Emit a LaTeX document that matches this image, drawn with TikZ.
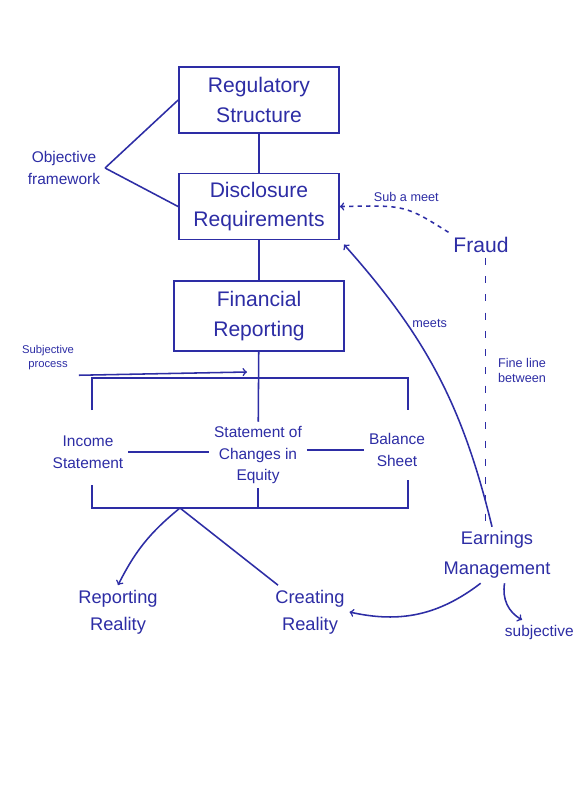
\documentclass[tikz,border=0pt]{standalone}
\usepackage{fontspec}
\setmainfont{Liberation Sans}
\usetikzlibrary{shapes,arrows,positioning}
\definecolor{ink}{RGB}{45,45,165}
\tikzstyle{block} = [rectangle, draw=ink, text=ink, line width=1.1pt, align=center, minimum width=4cm, minimum height=1.65cm, font=\fontsize{15}{21}\selectfont]
\tikzstyle{note} = [text=ink, align=center, font=\fontsize{13}{19}\selectfont]
\tikzstyle{scribble} = [text=ink, align=center, font=\fontsize{9}{11}\selectfont]
\tikzstyle{link} = [draw=ink, line width=1.1pt]
\tikzstyle{pointer} = [link, -to]

\begin{document}
\begin{tikzpicture}[x=0.025cm, y=-0.025cm, node distance=1cm]
    \fill[white] (0,0) rectangle (573,792);
    \useasboundingbox (0,0) rectangle (573,792);
    % Place nodes
    \node [block] (regulatory) at (259,100) {Regulatory\\Structure};
    \node [block, below=0.975cm of regulatory] (disclosure) {Disclosure\\Requirements};
    \node [block, below=1cm of disclosure, minimum width=4.25cm, minimum height=1.75cm] (financial) {Financial\\Reporting};
    \node [scribble, font=\fontsize{11}{15}\selectfont] (objective) at (64,168) {Objective\\framework};
    \node [scribble, font=\fontsize{8}{10}\selectfont] (subprocess) at (48,358) {Subjective\\process};
    \node [note, font=\fontsize{11}{15}\selectfont] (soce) at (258,455) {Statement of\\Changes in\\Equity};
    \node [note, font=\fontsize{11}{16}\selectfont] (income) at (88,452) {Income\\Statement};
    \node [note, font=\fontsize{11}{16}\selectfont] (balance) at (397,450) {Balance\\Sheet};
    \node [note] (reporting) at (118,612) {Reporting\\Reality};
    \node [note] (creating) at (310,612) {Creating\\Reality};
    \node [note, font=\fontsize{13}{21}\selectfont] (earnings) at (497,555) {Earnings\\Management};
    \node [note, font=\fontsize{15}{19}\selectfont] (fraud) at (481,245) {Fraud};
    \node [note, font=\fontsize{11}{14}\selectfont, anchor=west] (subjective) at (500,632) {subjective};
    \coordinate (stem) at (247,372);
    \coordinate (topleft) at (92,410);
    \coordinate (topright) at (408,410);
    \coordinate (botleft) at (92,485);
    \coordinate (botright) at (408,480);
    \coordinate (fork) at (180,508);

    % Draw edges
    \path [link] (regulatory) -- (disclosure);
    \path [link] (disclosure) -- (financial);
    \path [link] (objective.east) -- (regulatory.west);
    \path [link] (objective.east) -- (disclosure.west);
    \path [link] (financial) -- (soce);
    \path [pointer] (subprocess.south east) -- (stem);
    \path [link] (topleft) -- ++(0,-32) -| (topright);
    \path [link] (income.east) -- (income.east -| soce.west);
    \path [link] (soce.east |- balance.west) -- (balance.west);
    \path [link] (botleft) -- ++(0,23) -| (botright);
    \path [link] (soce.south) -- (soce.south |- fork);
    \path [pointer] (fork) to[bend right=12] (reporting.north);
    \path [link] (fork) -- (creating.140);
    \path [pointer] (earnings.240) to[bend left=25] (creating.east);
    \path [pointer] (earnings.285) to[bend right=35] ([xshift=0.55cm]subjective.north west);
    \path [pointer] (earnings.100) to[bend right=14] node[pos=0.7, right, scribble] (meets) {meets} ([xshift=3pt,yshift=-3pt]disclosure.south east);
    \path [pointer, dashed] (fraud.north west) .. controls (405,205) .. node[pos=0.45, above=2pt, scribble] (subameet) {Sub a meet} (disclosure.east);
    \path [link, dash pattern=on 5pt off 8pt] (fraud.290) -- node[pos=0.42, right=5pt, scribble] (fineline) {Fine line\\between} (fraud.290 |- earnings.north);
\end{tikzpicture}
\end{document}
